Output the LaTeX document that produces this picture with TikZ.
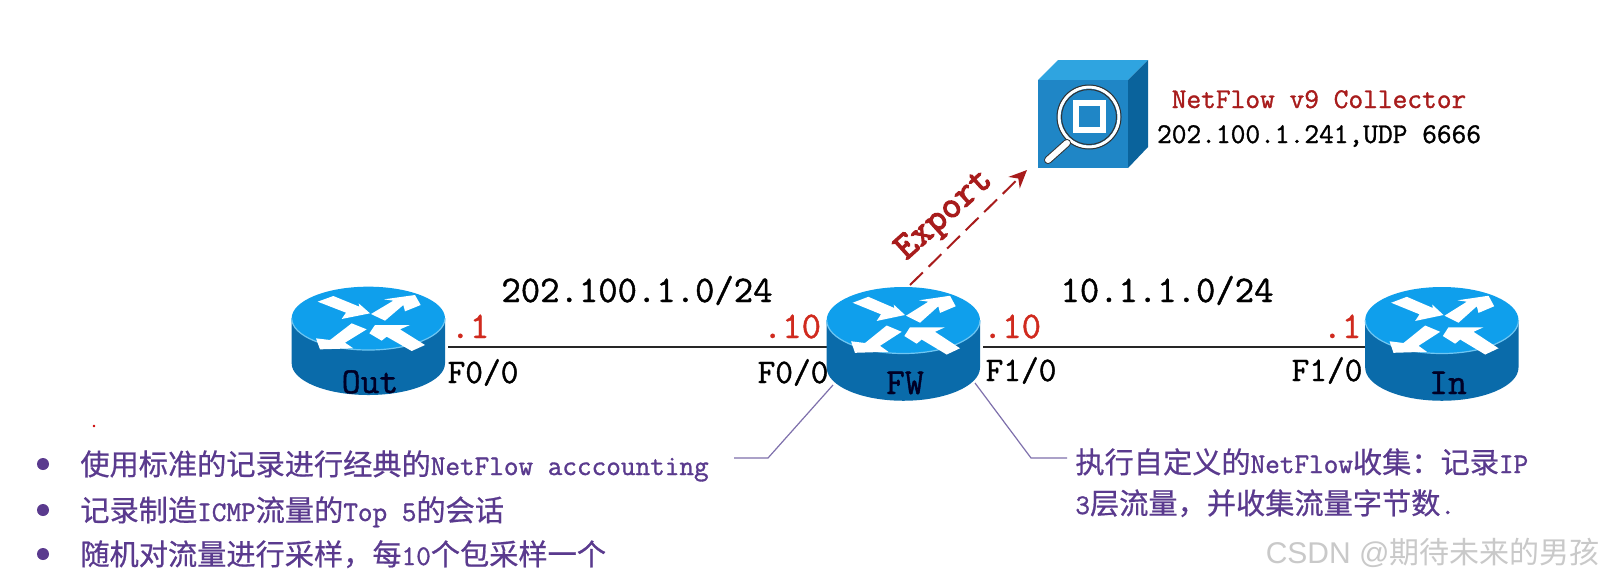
\documentclass[tikz,border=0pt]{standalone}
\usepackage{fontspec}
\renewcommand{\familydefault}{\ttdefault}
\newfontfamily\zhfont[FakeBold=0.6]{Noto Sans CJK SC}
\newfontfamily\zhplain{Noto Sans CJK SC}
\newfontfamily\wmfont{Liberation Sans}
\newfontfamily\monob[FakeBold=1.2]{Latin Modern Mono}
\newfontfamily\monox[FakeBold=3.2]{Latin Modern Mono}
\usetikzlibrary{arrows.meta}
\definecolor{rtop}{HTML}{0F9FEC}
\definecolor{rside}{HTML}{0A6BAA}
\definecolor{rrim}{HTML}{6FC6F2}
\definecolor{cfront}{HTML}{1F86C6}
\definecolor{ctop}{HTML}{2FA4E0}
\definecolor{cright}{HTML}{0A639C}
\definecolor{redtxt}{HTML}{D02A1E}
\definecolor{darkred}{HTML}{A81C1C}
\definecolor{purp}{HTML}{5A3A8E}
\definecolor{calloutline}{HTML}{7E70AC}
\definecolor{wm}{HTML}{C9C9C9}
\newcommand{\zh}[1]{{\fontsize{14.6}{18}\zhfont\selectfont #1}}
\tikzset{
  big/.style={inner sep=0pt,anchor=base,font=\fontsize{18.8}{18}\monob\selectfont,text=black},
  addr/.style={inner sep=0pt,anchor=base,font=\fontsize{18.8}{18}\monob\selectfont,text=redtxt},
  port/.style={inner sep=0pt,anchor=base,font=\fontsize{17.2}{18}\monob\selectfont,text=black},
  rname/.style={inner sep=0pt,anchor=base,font=\fontsize{18.3}{18}\monob\selectfont,text=black!85!blue},
  small/.style={inner sep=0pt,anchor=base,font=\fontsize{14.3}{14}\monob\selectfont},
  note/.style={inner sep=0pt,anchor=base west,text=purp,font=\fontsize{14.2}{14}\monob\selectfont},
  bulletdot/.style={circle,fill=purp,inner sep=0pt,minimum size=6pt},
  link/.style={draw=black!85,line width=0.9pt},
  callout/.style={draw=calloutline,line width=0.6pt},
  iconbox/.style={inner sep=0pt,minimum width=1pt,minimum height=1pt}
}
\newcommand{\routerbody}[3]{%
\begin{scope}[shift={(#1,#2)},x=0.16667pt,y=-#3*0.16667pt]
  \fill[rside] (65,145) -- (65,280) arc[start angle=180,end angle=0,x radius=230,y radius=95] -- (525,145) -- cycle;
  \fill[rtop] (295,145) ellipse[x radius=230,y radius=95];
  \draw[rrim,line width=0.6pt] (65,145) arc[start angle=180,end angle=0,x radius=230,y radius=95];
  \fill[white] (143,95) -- (190,78) -- (268,110) -- (266,100) -- (300,130) -- (215,147) -- (228,128) -- cycle;
  \fill[white] (303,132) -- (370,92) -- (342,88) -- (435,75) -- (452,105) -- (405,124) -- (400,105) -- (345,152) -- cycle;
  \fill[white] (245,160) -- (290,178) -- (225,218) -- (250,235) -- (150,238) -- (138,205) -- (180,210) -- cycle;
  \fill[white] (298,190) -- (315,165) -- (420,165) -- (390,178) -- (465,225) -- (425,243) -- (350,200) -- (335,212) -- cycle;
\end{scope}}
\begin{document}
\begin{tikzpicture}[x=0.5pt,y=-0.5pt]
\useasboundingbox (0,0) rectangle (1606,580);
\fill[white] (0,0) rectangle (1606,580);

% link end points
\coordinate (outport) at (448,347);
\coordinate (fwleft) at (827,347);
\coordinate (fwright) at (983,347);
\coordinate (inport) at (1365,347);
\coordinate (exportstart) at (910,285);
\coordinate (exportend) at (1027,170);
\coordinate (lfoot) at (833,385);
\coordinate (lknee) at (768,458);
\coordinate (lend) at (734,458);
\coordinate (rfoot) at (975,383);
\coordinate (rknee) at (1031,458);
\coordinate (rend) at (1067,458);

\draw[link] (outport) -- (fwleft);
\draw[link] (fwright) -- (inport);
\draw[callout] (lfoot) -- (lknee) -- (lend);
\draw[callout] (rfoot) -- (rknee) -- (rend);
\draw[draw=darkred,line width=1pt,dash pattern=on 9pt off 4pt,-{Stealth[length=9pt,width=8pt]}] (exportstart) -- (exportend);

% routers
\routerbody{270}{270}{1}
\routerbody{805}{269.5}{1.05}
\routerbody{1343.5}{269.5}{1.05}
\node[rname] (outlabel) at (370,393) {Out};
\node[rname] (fwlabel) at (905,394) {FW};
\node[rname] (inlabel) at (1448,394) {In};

% collector cube
\fill[ctop] (1038,80) -- (1058,60) -- (1148,60) -- (1128,80) -- cycle;
\fill[cright] (1128,80) -- (1148,60) -- (1148,147) -- (1128,168) -- cycle;
\fill[cfront] (1038,80) rectangle (1128,168);
\draw[white,line width=1.6pt] (1089,117) circle[radius=30];
\draw[black!80,line width=0.5pt] (1089,117) circle[radius=32];
\draw[black!80,line width=0.5pt] (1089,117) circle[radius=27.5];
\draw[white,line width=3pt] (1075.5,103) rectangle (1102.5,130);
\draw[black!80,line width=4pt,line cap=round] (1048,160) -- (1067,143);
\draw[white,line width=3pt,line cap=round] (1048,160) -- (1067,143);
\node[iconbox] (collector) at (1093,114) {};

% texts
\node[big] (net1) at (637,302) {202.100.1.0/24};
\node[big] (net2) at (1167,302) {10.1.1.0/24};
\node[addr] (a1) at (470,338) {.1};
\node[addr] (a2) at (792,338) {.10};
\node[addr] (a3) at (1012,338) {.10};
\node[addr] (a4) at (1342,338) {.1};
\node[port] (p1) at (483,383) {F0/0};
\node[port] (p2) at (793,383) {F0/0};
\node[port] (p3) at (1021,381) {F1/0};
\node[port] (p4) at (1327,381) {F1/0};
\node[small,text=darkred] (coll1) at (1319,108) {NetFlow v9 Collector};
\node[small,text=black] (coll2) at (1319,143) {202.100.1.241,UDP 6666};
\node[inner sep=0pt,rotate=42,text=darkred,font=\fontsize{19}{19}\monox\selectfont] (export) at (945,216) {Export};

% notes
\fill[red!80!black] (94,426) circle[radius=1.4];
\node[bulletdot] (b1) at (43,464) {};
\node[bulletdot] (b2) at (43,510) {};
\node[bulletdot] (b3) at (43,554) {};
\node[note] (n1) at (80,475) {\zh{使用标准的记录进行经典的}NetFlow acccounting};
\node[note] (n2) at (80,521) {\zh{记录制造}ICMP\zh{流量的}Top 5\zh{的会话}};
\node[note] (n3) at (80,565) {\zh{随机对流量进行采样，每}10\zh{个包采样一个}};
\node[note] (n4) at (1075,473) {\zh{执行自定义的}NetFlow\zh{收集：记录}IP};
\node[note] (n5) at (1075,514) {3\zh{层流量，并收集流量字节数}.};

% watermark
\node[inner sep=0pt,anchor=base east,text=wm,font=\fontsize{15}{16}\wmfont\selectfont] (wmark) at (1600,563) {CSDN @{\zhplain 期待未来的男孩}};
\end{tikzpicture}
\end{document}
